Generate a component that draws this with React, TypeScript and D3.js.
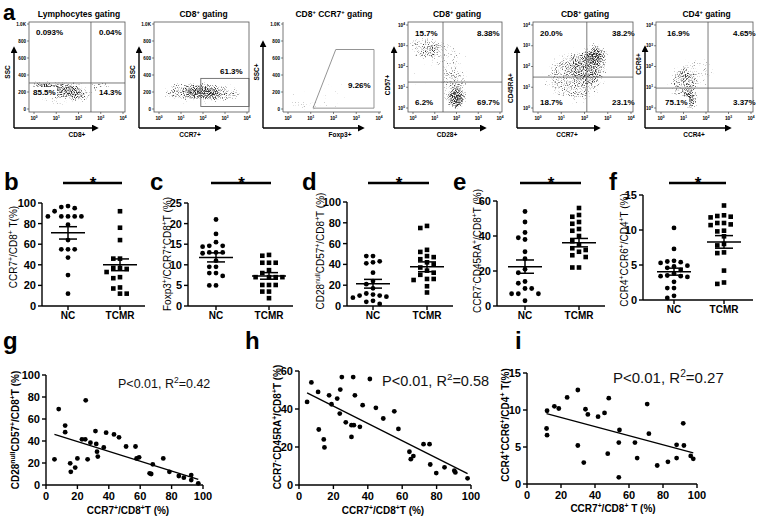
import React from "react";
import * as d3 from "d3";

const FONT = "'Liberation Sans', Arial, Helvetica, sans-serif";
const W = 760;
const H = 520;

// ---------- panel a: flow plots. clouds are density blobs in data units
// [cx, cy, rx, ry, density]; x = log10 decades, y = SSC or log10 decades
type Cluster = [number, number, number, number, number];

const lymphoCloud: Cluster[] = [
  [0.4, 260, 0.6, 70, 0.9],
  [1.3, 230, 0.9, 90, 0.8],
  [2.1, 170, 0.6, 100, 0.5],
  [3.05, 255, 0.5, 50, 0.85],
  [1.2, 130, 1.4, 110, 0.45],
  [1.5, 420, 1.8, 200, 0.15],
];
const cd8Cloud: Cluster[] = [
  [2.0, 200, 0.8, 90, 0.9],
  [1.1, 200, 0.9, 110, 0.6],
  [2.9, 170, 0.8, 110, 0.55],
  [2.0, 220, 2.0, 180, 0.25],
];
const foxp3Cloud: Cluster[] = [
  [0.6, 40, 0.8, 35, 0.65],
  [1.3, 200, 1.3, 280, 0.25],
  [2.6, 150, 1.2, 250, 0.15],
];
const cd57Cloud: Cluster[] = [
  [2.0, 0.45, 0.45, 0.55, 0.95],
  [1.9, 1.4, 0.6, 0.6, 0.5],
  [0.5, 3.0, 0.75, 0.6, 0.6],
  [1.5, 2.6, 0.9, 0.7, 0.35],
  [1.3, 1.6, 1.6, 1.6, 0.25],
];
const cd45Cloud: Cluster[] = [
  [1.6, 1.5, 1.2, 1.1, 0.5],
  [2.5, 2.55, 0.45, 0.45, 0.85],
  [2.1, 2.0, 0.8, 0.8, 0.45],
  [1.7, 1.6, 1.9, 1.8, 0.3],
];
const ccr6Cloud: Cluster[] = [
  [1.3, 0.4, 0.28, 0.5, 0.95],
  [1.0, 1.2, 0.6, 0.75, 0.6],
  [1.6, 1.8, 0.9, 0.7, 0.35],
  [1.2, 1.2, 1.5, 1.5, 0.2],
];

const lymphoPct = ["0.093%", "0.04%", "85.5%", "14.3%"];
const cd8Pct = ["61.3%"];
const foxp3Pct = ["9.26%"];
const cd57Pct = ["15.7%", "8.38%", "6.2%", "69.7%"];
const cd45Pct = ["20.0%", "38.2%", "18.7%", "23.1%"];
const ccr6Pct = ["16.9%", "4.65%", "75.1%", "3.37%"];

const sscTicks = [0, 200, 400, 600, 800, 1000];
const sscTickLabels = ["0", "200", "400", "600", "800", "1.0K"];
const logTicks = [0, 1, 2, 3, 4];

// ---------- panels b-f: NC vs TCMR
const groups = ["NC", "TCMR"];

const ccr7NC = [97, 96, 95, 92, 87, 87, 87, 87, 87, 79, 64, 55, 55, 55, 47, 30, 12];
const ccr7TCMR = [92, 76, 64, 46, 46, 37, 37, 36, 33, 28, 27, 18, 17, 12, 12];
const ccr7Mean = [71, 40];
const ccr7Sem = [6, 5.7];

const foxp3NC = [21, 17.5, 15.5, 14.6, 14.6, 14.4, 13, 13, 12.8, 13, 11, 9.5, 9.5, 8, 8, 7.3, 5, 5];
const foxp3TCMR = [12.4, 12.2, 10.5, 10.5, 10.5, 8.7, 8, 7, 7, 7, 7, 5.1, 5.1, 5.1, 3.5, 3.5, 1.9];
const foxp3Mean = [11.8, 7.3];
const foxp3Sem = [1.1, 0.8];

const cd57NC = [48, 48, 43, 42, 41, 32, 24, 21, 17, 12, 11, 10, 10, 9, 8, 5, 4, 2];
const cd57TCMR = [77, 75, 54, 52, 48, 47, 45, 42, 40, 37, 34, 32, 30, 26, 26, 25, 19, 13];
const cd57Mean = [21.4, 37.7];
const cd57Sem = [4.2, 4.7];

const cd45NC = [54, 48, 42, 39, 38, 31, 27, 21, 19, 14, 13, 10, 10, 7, 7, 7, 3];
const cd45TCMR = [56, 52, 51, 48, 47, 44, 43, 40, 37, 35, 33, 32, 31, 29, 28, 22, 22];
const cd45Mean = [22.5, 36.2];
const cd45Sem = [3.8, 2.4];

const ccr6NC = [10.3, 7.3, 5.6, 5.5, 5.4, 5.3, 4.9, 4.8, 4.6, 4.3, 3.8, 3.5, 3.4, 3.4, 3.3, 2.6, 1.7, 1.7, 0.6, 0.3];
const ccr6TCMR = [13.5, 12.1, 12, 11.9, 11.8, 11, 11, 10.8, 10.7, 9.9, 9.8, 9.1, 8, 7.8, 6.8, 6.7, 4.2, 2.5, 2.3];
const ccr6Mean = [4.05, 8.3];
const ccr6Sem = [0.5, 0.9];

// ---------- panels g-i: correlations with CCR7+/CD8+ T
const gX = [5.4, 8.1, 12.2, 12.2, 15.4, 15.8, 18.6, 20, 22.9, 25, 25.3, 26.5, 28.3, 31.5, 32, 32.5, 33, 36.8, 38.3, 43.3, 46.5, 51, 57, 57.7, 59.3, 68, 66, 67, 74.7, 78.6, 84.6, 87.8, 92.5, 92.5, 97];
const gY = [23.3, 69, 54, 48, 19.7, 12, 15.8, 24.2, 41.5, 41.5, 77, 23.3, 38.5, 49, 37.3, 30.3, 25.8, 34.2, 47.6, 46, 43.3, 35, 35, 24.2, 25.2, 18.8, 10.6, 10, 24.2, 12, 8.2, 6.7, 9, 4.5, 1.5];
const gLine = [[5.4, 46], [97, 5.2]];

const hX = [4.7, 7.2, 11.1, 11.5, 14.4, 14.8, 17.5, 18.9, 22.2, 24, 24.9, 23.7, 27.2, 30.5, 30.5, 31.9, 31.5, 32.5, 35.4, 37, 41.2, 44.7, 49, 55.4, 57.8, 64.2, 65, 66.5, 72.4, 75.9, 76.3, 79.8, 84.6, 90.3, 90.9, 98];
const hY = [43.7, 54, 49, 29.2, 24, 19.8, 47.2, 42.5, 45.5, 50.2, 56.8, 37.6, 33, 25.3, 31.5, 31.5, 56.8, 47.2, 30.6, 42, 55.8, 40.6, 35, 38.8, 29.5, 17.5, 13.6, 15.2, 21.5, 21.5, 10.8, 6.3, 9.3, 7.5, 6.6, 3.5];
const hLine = [[4.7, 48.5], [98, 6]];

const iX = [11.5, 11.8, 11.8, 16.1, 18.7, 23.6, 29.9, 29.9, 33.4, 34.4, 35.8, 41.8, 45.6, 48.1, 47.5, 54, 54.4, 54, 63.5, 64.8, 70.7, 71.7, 76.6, 82.9, 88, 88, 91.9, 92.3, 96.3, 97.8];
const iY = [7.5, 6.6, 9.9, 10.5, 10.2, 11.7, 12.7, 5.2, 2.9, 10.1, 9.4, 9.1, 9.6, 11.6, 4.1, 5.6, 7.3, 0.9, 5.6, 3.5, 10.8, 6.8, 2.5, 3, 5.3, 3.5, 8.2, 5.2, 3.8, 3.4];
const iLine = [[11.5, 9.5], [97.8, 4.2]];

// ---------- layout
const flowLayout = [
  { title: "Lymphocytes gating", cloud: lymphoCloud, pct: lymphoPct, x0: 29, x1: 125, yLog: false, box: true,
    gate: { quad: [2.56, 306] }, pctXY: [[36, 35], [99, 35], [33, 95], [99, 95]],
    ax: 14, axEnd: 97, axTop: 48, xLab: "CD8+", xLabX: 77, yLab: "SSC", yLabY: 72 },
  { title: "CD8^{+} gating", cloud: cd8Cloud, pct: cd8Pct, x0: 154, x1: 249, yLog: false, box: true,
    gate: { rect: [1.9, 4.4, 30, 360] }, pctXY: [[220, 74]],
    ax: 139, axEnd: 220, axTop: 48, xLab: "CCR7+", xLabX: 190, yLab: "SSC", yLabY: 72 },
  { title: "CD8^{+} CCR7^{+} gating", cloud: foxp3Cloud, pct: foxp3Pct, x0: 283, x1: 381, yLog: false, box: false,
    gate: { poly: [[1.1, 10], [2.1, 700], [3.78, 700], [3.78, 10]] }, pctXY: [[348, 88]],
    ax: 263, axEnd: 363, axTop: 42, xLab: "Foxp3+", xLabX: 340, yLab: "SSC+", yLabY: 72 },
  { title: "CD8^{+} gating", cloud: cd57Cloud, pct: cd57Pct, x0: 408, x1: 502, yLog: true, box: true,
    gate: { quad: [1.38, 1.25] }, pctXY: [[415, 36], [477, 36], [415, 105], [477, 105]],
    ax: 394, axEnd: 485, axTop: 48, xLab: "CD28+", xLabX: 447, yLab: "CD57+", yLabY: 85 },
  { title: "CD8^{+} gating", cloud: cd45Cloud, pct: cd45Pct, x0: 533, x1: 633, yLog: true, box: true,
    gate: { quad: [2.1, 1.49] }, pctXY: [[540, 36], [612, 36], [540, 105], [612, 105]],
    ax: 517, axEnd: 599, axTop: 48, xLab: "CCR7+", xLabX: 567, yLab: "CD45RA+", yLabY: 88 },
  { title: "CD4^{+} gating", cloud: ccr6Cloud, pct: ccr6Pct, x0: 656, x1: 753, yLog: true, box: true,
    gate: { quad: [2.09, 0.96] }, pctXY: [[667, 36], [733, 36], [665, 105], [733, 105]],
    ax: 645, axEnd: 730, axTop: 47, xLab: "CCR4+", xLabX: 694, yLab: "CCR6+", yLabY: 64 },
];

const dotPanels = [
  { key: "b", letterX: 4, axisX: 42, xEnd: 145, nc: 68, tcmr: 120, y0: 306, yTop: 203, max: 100, step: 20,
    sets: [ccr7NC, ccr7TCMR], mean: ccr7Mean, sem: ccr7Sem, label: "CCR7^{+}/CD8^{+} T(%)", labX: 13, labY: 247, xLabY: 319 },
  { key: "c", letterX: 150, axisX: 188, xEnd: 293, nc: 216, tcmr: 269, y0: 306, yTop: 203, max: 25, step: 5,
    sets: [foxp3NC, foxp3TCMR], mean: foxp3Mean, sem: foxp3Sem, label: "Foxp3^{+}/CCR7^{+}CD8^{+}T (%)", labX: 167, labY: 254, xLabY: 319 },
  { key: "d", letterX: 302, axisX: 347, xEnd: 453, nc: 373, tcmr: 427, y0: 306, yTop: 202, max: 100, step: 20,
    sets: [cd57NC, cd57TCMR], mean: cd57Mean, sem: cd57Sem, label: "CD28^{null}CD57^{+}/CD8^{+}T (%)", labX: 320, labY: 251, xLabY: 319 },
  { key: "e", letterX: 453, axisX: 497, xEnd: 605, nc: 525, tcmr: 579, y0: 306, yTop: 201, max: 60, step: 20,
    sets: [cd45NC, cd45TCMR], mean: cd45Mean, sem: cd45Sem, label: "CCR7^{-}CD45RA^{+}/CD8^{+}T (%)", labX: 477, labY: 251, xLabY: 319 },
  { key: "f", letterX: 609, axisX: 643, xEnd: 753, nc: 674, tcmr: 724, y0: 300, yTop: 195, max: 15, step: 5,
    sets: [ccr6NC, ccr6TCMR], mean: ccr6Mean, sem: ccr6Sem, label: "CCR4^{+}CCR6^{+}/CD4^{+}T (%)", labX: 624, labY: 250, xLabY: 313 },
];

const regPanels = [
  { key: "g", letterX: 3, x0: 46, x1: 203, y0: 485, yTop: 375, yMax: 100, yStep: 20, xs: gX, ys: gY, line: gLine,
    stat: "P<0.01, R^{2}=0.42", statX: 118, statY: 388, statSize: 12.5,
    yLabel: "CD28^{null}CD57^{+}/CD8^{+}T (%)", yLabX: 15, yLabY: 430, xLabel: "CCR7^{+}/CD8^{+}T (%)", xLabX: 128, xLabY: 514 },
  { key: "h", letterX: 245, x0: 299, x1: 471, y0: 485, yTop: 371, yMax: 60, yStep: 20, xs: hX, ys: hY, line: hLine,
    stat: "P<0.01, R^{2}=0.58", statX: 382, statY: 386, statSize: 14.5,
    yLabel: "CCR7^{-}CD45RA^{+}/CD8^{+}T (%)", yLabX: 277, yLabY: 427, xLabel: "CCR7^{+}/CD8^{+}T (%)", xLabX: 383, xLabY: 514 },
  { key: "i", letterX: 515, x0: 527, x1: 697, y0: 484, yTop: 373, yMax: 15, yStep: 5, xs: iX, ys: iY, line: iLine,
    stat: "P<0.01, R^{2}=0.27", statX: 613, statY: 383, statSize: 15,
    yLabel: "CCR4^{+}CCR6^{+}/CD4^{+} T(%)", yLabX: 505, yLabY: 425, xLabel: "CCR7^{+}/CD8^{+} T (%)", xLabX: 613, xLabY: 512 },
];

// superscripts written as ^{...}
function rich(s: string, f: number) {
  const parts = s.split(/(\^\{[^}]*\})/).filter((p) => p.length > 0);
  const shift = f * 0.38;
  let up = false;
  return parts.map((p, i) => {
    if (p.startsWith("^{")) {
      const el = (
        <tspan key={i} fontSize={f * 0.68} dy={up ? 0 : -shift}>
          {p.slice(2, -1)}
        </tspan>
      );
      up = true;
      return el;
    }
    const el = (
      <tspan key={i} dy={up ? shift : 0}>
        {p}
      </tspan>
    );
    up = false;
    return el;
  });
}

// GraphPad style column scatter: push overlapping points sideways
function swarm(vals: number[], y: (v: number) => number, step: number, gap: number) {
  const placed: [number, number][] = [];
  return vals
    .map((v, i) => ({ v, i }))
    .sort((a, b) => b.v - a.v)
    .map(({ v, i }) => {
      const py = y(v);
      let dx = 0;
      for (let k = 0; k < 40; k++) {
        dx = k === 0 ? 0 : (k % 2 ? -1 : 1) * Math.ceil(k / 2) * step;
        if (placed.every(([px, qy]) => Math.hypot(px - dx, qy - py) >= gap)) break;
      }
      placed.push([dx, py]);
      return { i, dx, py };
    });
}

function FlowPlot({ p, idx }: { p: any; idx: number }) {
  const top = 22;
  const bottom = 112;
  const x = d3.scaleLinear().domain([0, 4]).range([p.x0 + 5, p.x1 - 2]);
  const y = p.yLog
    ? d3.scaleLinear().domain([0, 4]).range([108, 25])
    : d3.scaleLinear().domain([0, 1000]).range([109, 24]);
  const yTicks = p.yLog ? logTicks : sscTicks;
  const g = p.gate;
  const gateStroke = "#6a6a6a";

  return (
    <g>
      <clipPath id={`fclip${idx}`}>
        <rect x={p.x0} y={top} width={p.x1 - p.x0} height={bottom - top} />
      </clipPath>
      <g clipPath={`url(#fclip${idx})`} opacity={0.82}>
        <g filter="url(#speckle)">
          {p.cloud.map((c: Cluster, i: number) => (
            <ellipse
              key={i}
              cx={x(c[0])}
              cy={y(c[1])}
              rx={Math.abs(x(c[2]) - x(0))}
              ry={Math.abs(y(c[3]) - y(0))}
              fill="#000"
              fillOpacity={c[4]}
            />
          ))}
        </g>
      </g>

      {g.quad && (
        <g stroke={gateStroke} strokeWidth={0.9}>
          <line x1={x(g.quad[0])} x2={x(g.quad[0])} y1={top} y2={bottom} />
          <line x1={p.x0} x2={p.x1} y1={y(g.quad[1])} y2={y(g.quad[1])} />
        </g>
      )}
      {g.rect && (
        <rect
          x={x(g.rect[0])}
          y={y(g.rect[3])}
          width={Math.min(x(g.rect[1]), p.x1) - x(g.rect[0])}
          height={y(g.rect[2]) - y(g.rect[3])}
          fill="none"
          stroke={gateStroke}
          strokeWidth={0.9}
        />
      )}
      {g.poly && (
        <polygon
          points={g.poly.map((d: number[]) => `${x(d[0])},${y(d[1])}`).join(" ")}
          fill="none"
          stroke="#888"
          strokeWidth={0.9}
        />
      )}

      {p.pct.map((t: string, i: number) => (
        <g key={i}>
          <rect x={p.pctXY[i][0] - 2} y={p.pctXY[i][1] - 8} width={t.length * 4.6 + 3} height={10} fill="#fff" />
          <text x={p.pctXY[i][0]} y={p.pctXY[i][1]} fontSize={8} fontWeight="bold">
            {t}
          </text>
        </g>
      ))}

      {p.box ? (
        <rect x={p.x0} y={top} width={p.x1 - p.x0} height={bottom - top} fill="none" stroke="#555" strokeWidth={0.8} />
      ) : (
        <path d={`M${p.x0},${top}V${bottom}H${p.x1}`} fill="none" stroke="#555" strokeWidth={0.8} />
      )}

      {yTicks.map((t, i) => (
        <g key={i}>
          <line x1={p.x0 - 2} x2={p.x0} y1={y(t)} y2={y(t)} stroke="#333" strokeWidth={0.6} />
          <text x={p.x0 - 3} y={y(t) + 1.6} fontSize={4.6} fontWeight="bold" textAnchor="end">
            {p.yLog ? rich(`10^{${t}}`, 4.8) : sscTickLabels[i]}
          </text>
        </g>
      ))}
      {logTicks.map((t) => (
        <g key={t}>
          <line x1={x(t)} x2={x(t)} y1={bottom} y2={bottom + 2} stroke="#333" strokeWidth={0.6} />
          <text x={x(t)} y={120} fontSize={4.8} fontWeight="bold" textAnchor="middle">
            {rich(`10^{${t}}`, 4.8)}
          </text>
        </g>
      ))}

      <g stroke="#000" strokeWidth={1.4}>
        <line x1={p.ax} y1={128} x2={p.ax} y2={p.axTop} markerEnd="url(#arrow)" />
        <line x1={p.ax} y1={128} x2={p.axEnd} y2={128} markerEnd="url(#arrow)" />
      </g>
      <text x={p.xLabX} y={137} fontSize={6.5} fontWeight="bold" textAnchor="middle">
        {p.xLab}
      </text>
      <text transform={`translate(${p.ax - 4},${p.yLabY}) rotate(-90)`} fontSize={6.5} fontWeight="bold" textAnchor="middle">
        {p.yLab}
      </text>
      <text x={(p.x0 + p.x1) / 2 + 2} y={17} fontSize={8.5} fontWeight="bold" textAnchor="middle">
        {rich(p.title, 8.5)}
      </text>
    </g>
  );
}

function DotPanel({ p }: { p: any }) {
  const y = d3.scaleLinear().domain([0, p.max]).range([p.y0, p.yTop]);
  const x = d3.scalePoint<string>().domain(groups).range([p.nc, p.tcmr]);
  const ticks = d3.range(0, p.max + p.step / 2, p.step);
  const xNC = x("NC")!;
  const xT = x("TCMR")!;

  return (
    <g>
      <text x={p.letterX} y={190} fontSize={24} fontWeight="bold">
        {p.key}
      </text>
      <line x1={xNC - 5} x2={xT + 2} y1={183} y2={183} stroke="#000" strokeWidth={2.6} />
      <text x={(xNC + xT) / 2 - 1} y={189} fontSize={17} fontWeight="bold" textAnchor="middle">
        *
      </text>

      <g stroke="#000" strokeWidth={1.4} fill="none">
        <line x1={p.axisX} x2={p.axisX} y1={p.y0} y2={p.yTop} />
        <line x1={p.axisX} x2={p.xEnd} y1={p.y0} y2={p.y0} />
        {ticks.map((t: number) => (
          <line key={t} x1={p.axisX - 4} x2={p.axisX} y1={y(t)} y2={y(t)} />
        ))}
        {groups.map((gname) => (
          <line key={gname} x1={x(gname)} x2={x(gname)} y1={p.y0} y2={p.y0 + 4} />
        ))}
      </g>
      {ticks.map((t: number) => (
        <text key={t} x={p.axisX - 6} y={y(t) + 4} fontSize={11} fontWeight="bold" textAnchor="end">
          {t}
        </text>
      ))}
      {groups.map((gname) => (
        <text key={gname} x={x(gname)} y={p.xLabY} fontSize={10} fontWeight="bold" textAnchor="middle">
          {gname}
        </text>
      ))}
      <text transform={`translate(${p.labX + 4},${p.labY}) rotate(-90)`} fontSize={10} textAnchor="middle">
        {rich(p.label, 10)}
      </text>

      {p.sets.map((vals: number[], gi: number) => {
        const cx = x(groups[gi])!;
        return swarm(vals, y, 6.7, 5.4).map((d) =>
          gi === 0 ? (
            <circle key={`${gi}-${d.i}`} cx={cx + d.dx} cy={d.py} r={2.4} fill="#000" />
          ) : (
            <rect key={`${gi}-${d.i}`} x={cx + d.dx - 2.3} y={d.py - 2.3} width={4.6} height={4.6} fill="#000" />
          )
        );
      })}

      {groups.map((gname, gi) => {
        const cx = x(gname)!;
        const m = p.mean[gi];
        const s = p.sem[gi];
        return (
          <g key={gname} stroke="#000" strokeWidth={1.5}>
            <line x1={cx - 17} x2={cx + 17} y1={y(m)} y2={y(m)} />
            <line x1={cx - 9} x2={cx + 9} y1={y(m + s)} y2={y(m + s)} />
            <line x1={cx - 9} x2={cx + 9} y1={y(m - s)} y2={y(m - s)} />
            <line x1={cx} x2={cx} y1={y(m + s)} y2={y(m - s)} />
          </g>
        );
      })}
    </g>
  );
}

function RegPanel({ p }: { p: any }) {
  const x = d3.scaleLinear().domain([0, 100]).range([p.x0, p.x1]);
  const y = d3.scaleLinear().domain([0, p.yMax]).range([p.y0, p.yTop]);
  const xTicks = d3.range(0, 101, 20);
  const yTicks = d3.range(0, p.yMax + p.yStep / 2, p.yStep);
  const line = d3
    .line<number[]>()
    .x((d) => x(d[0]))
    .y((d) => y(d[1]));

  return (
    <g>
      <text x={p.letterX} y={349} fontSize={24} fontWeight="bold">
        {p.key}
      </text>
      <g stroke="#000" strokeWidth={1.4}>
        <line x1={p.x0} x2={p.x0} y1={p.y0} y2={p.yTop} />
        <line x1={p.x0} x2={p.x1} y1={p.y0} y2={p.y0} />
        {yTicks.map((t: number) => (
          <line key={t} x1={p.x0 - 4} x2={p.x0} y1={y(t)} y2={y(t)} />
        ))}
        {xTicks.map((t: number) => (
          <line key={t} x1={x(t)} x2={x(t)} y1={p.y0} y2={p.y0 + 4} />
        ))}
      </g>
      {yTicks.map((t: number) => (
        <text key={t} x={p.x0 - 6} y={y(t) + 4} fontSize={11} fontWeight="bold" textAnchor="end">
          {t}
        </text>
      ))}
      {xTicks.map((t: number) => (
        <text key={t} x={x(t)} y={p.y0 + 15} fontSize={11} fontWeight="bold" textAnchor="middle">
          {t}
        </text>
      ))}
      <text x={p.xLabX} y={p.xLabY} fontSize={10} fontWeight="bold" textAnchor="middle">
        {rich(p.xLabel, 10)}
      </text>
      <text transform={`translate(${p.yLabX + 4},${p.yLabY}) rotate(-90)`} fontSize={10} fontWeight="bold" textAnchor="middle">
        {rich(p.yLabel, 10)}
      </text>

      {p.xs.map((v: number, i: number) => (
        <circle key={i} cx={x(v)} cy={y(p.ys[i])} r={2.4} fill="#000" />
      ))}
      <path d={line(p.line) || ""} fill="none" stroke="#000" strokeWidth={1.3} />
      <text x={p.statX} y={p.statY} fontSize={p.statSize} fill="#111">
        {rich(p.stat, p.statSize)}
      </text>
    </g>
  );
}

export default function App() {
  return (
    <svg
      width={W}
      height={H}
      viewBox={`0 0 ${W} ${H}`}
      fontFamily={FONT}
      style={{ position: "absolute", left: 0, top: 0, background: "#fff", display: "block" }}
    >
      <defs>
        <marker id="arrow" viewBox="0 0 8 8" refX="6" refY="4" markerWidth="7" markerHeight="7" markerUnits="userSpaceOnUse" orient="auto">
          <path d="M0,0 L8,4 L0,8 Z" fill="#000" />
        </marker>
        <filter id="speckle" filterUnits="userSpaceOnUse" x="0" y="0" width={W} height="140" colorInterpolationFilters="sRGB">
          <feGaussianBlur in="SourceGraphic" stdDeviation="3" result="dens" />
          <feTurbulence type="fractalNoise" baseFrequency="0.9" numOctaves="1" seed="7" result="noise" />
          <feColorMatrix in="noise" type="matrix" values="0 0 0 0 0  0 0 0 0 0  0 0 0 0 0  1 0 0 0 0" result="na" />
          <feComposite in="dens" in2="na" operator="arithmetic" k1="0" k2="2.4" k3="4" k4="-3.65" />
        </filter>
      </defs>
      <rect width={W} height={H} fill="#fff" />
      <text x={3} y={20} fontSize={22} fontWeight="bold">
        a
      </text>
      {flowLayout.map((p, i) => (
        <FlowPlot key={i} p={p} idx={i} />
      ))}
      {dotPanels.map((p) => (
        <DotPanel key={p.key} p={p} />
      ))}
      {regPanels.map((p) => (
        <RegPanel key={p.key} p={p} />
      ))}
    </svg>
  );
}
